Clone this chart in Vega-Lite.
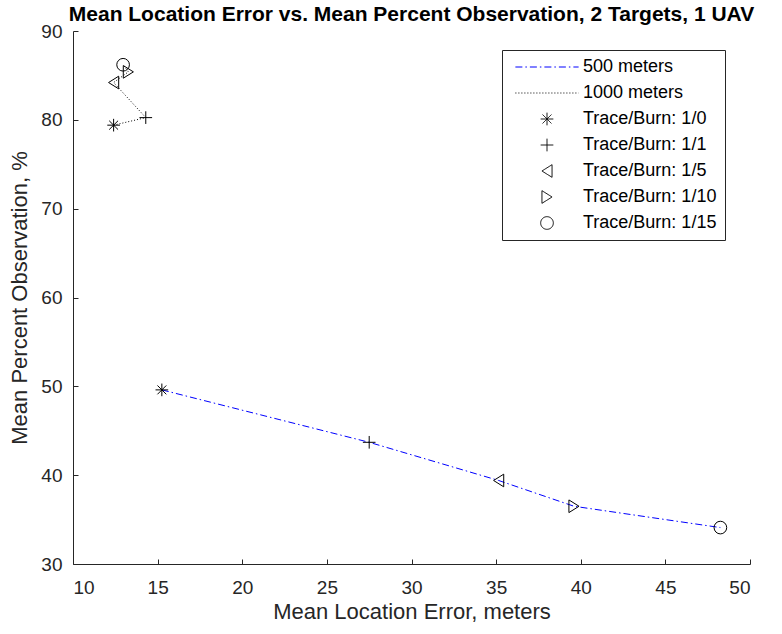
{
  "$schema": "https://vega.github.io/schema/vega-lite/v6.json",
  "width": 677,
  "height": 533,
  "autosize": {"type": "none"},
  "padding": {"left": 73, "top": 31, "right": 32, "bottom": 70},
  "background": "white",
  "config": {
    "font": "Liberation Sans",
    "view": {"stroke": null},
    "axis": {
      "grid": false,
      "domainColor": "#262626",
      "tickColor": "#262626",
      "tickSize": -5,
      "labelColor": "#262626",
      "labelFontSize": 19,
      "titleColor": "#262626",
      "titleFontSize": 22,
      "titleFontWeight": "normal"
    },
    "legend": {
      "orient": "none",
      "legendX": 429,
      "legendY": 19,
      "strokeColor": "#262626",
      "fillColor": "white",
      "padding": 8,
      "rowPadding": 8,
      "labelFontSize": 18,
      "labelColor": "#000000",
      "labelOffset": 27,
      "symbolOffset": 28,
      "symbolSize": 160,
      "symbolStrokeWidth": 1
    }
  },
  "title": {
    "text": "Mean Location Error vs. Mean Percent Observation, 2 Targets, 1 UAV",
    "fontSize": 21,
    "fontWeight": "bold",
    "color": "#000000",
    "anchor": "middle",
    "offset": -3
  },
  "datasets": {
    "lines": [
      {"series": "500 meters", "ord": 0, "x": 15.25, "y": 49.6},
      {"series": "500 meters", "ord": 1, "x": 27.5, "y": 43.7},
      {"series": "500 meters", "ord": 2, "x": 35.15, "y": 39.4},
      {"series": "500 meters", "ord": 3, "x": 39.6, "y": 36.5},
      {"series": "500 meters", "ord": 4, "x": 48.25, "y": 34.1},
      {"series": "1000 meters", "ord": 0, "x": 12.4, "y": 79.4},
      {"series": "1000 meters", "ord": 1, "x": 14.3, "y": 80.25},
      {"series": "1000 meters", "ord": 2, "x": 12.4, "y": 84.2},
      {"series": "1000 meters", "ord": 3, "x": 13.27, "y": 85.4},
      {"series": "1000 meters", "ord": 4, "x": 12.96, "y": 86.2}
    ],
    "points": [
      {"trace": "Trace/Burn: 1/0", "x": 15.25, "y": 49.6},
      {"trace": "Trace/Burn: 1/1", "x": 27.5, "y": 43.7},
      {"trace": "Trace/Burn: 1/5", "x": 35.15, "y": 39.4},
      {"trace": "Trace/Burn: 1/10", "x": 39.6, "y": 36.5},
      {"trace": "Trace/Burn: 1/15", "x": 48.25, "y": 34.1},
      {"trace": "Trace/Burn: 1/0", "x": 12.4, "y": 79.4},
      {"trace": "Trace/Burn: 1/1", "x": 14.3, "y": 80.25},
      {"trace": "Trace/Burn: 1/5", "x": 12.4, "y": 84.2},
      {"trace": "Trace/Burn: 1/10", "x": 13.27, "y": 85.4},
      {"trace": "Trace/Burn: 1/15", "x": 12.96, "y": 86.2}
    ]
  },
  "encoding": {
    "x": {
      "field": "x",
      "type": "quantitative",
      "scale": {"domain": [10, 50], "nice": false, "zero": false},
      "axis": {"values": [10, 15, 20, 25, 30, 35, 40, 45, 50], "title": "Mean Location Error, meters", "labelPadding": 19, "titlePadding": 4}
    },
    "y": {
      "field": "y",
      "type": "quantitative",
      "scale": {"domain": [30, 90], "nice": false, "zero": false},
      "axis": {"values": [30, 40, 50, 60, 70, 80, 90], "title": "Mean Percent Observation, %", "labelPadding": 16, "titlePadding": 9}
    }
  },
  "layer": [
    {
      "data": {"name": "lines"},
      "mark": {"type": "line", "strokeWidth": 1},
      "encoding": {
        "order": {"field": "ord", "type": "quantitative"},
        "color": {
          "field": "series",
          "type": "nominal",
          "scale": {
            "domain": ["500 meters", "1000 meters", "Trace/Burn: 1/0", "Trace/Burn: 1/1", "Trace/Burn: 1/5", "Trace/Burn: 1/10", "Trace/Burn: 1/15"],
            "range": ["#0000ff", "#000000", "#000000", "#000000", "#000000", "#000000", "#000000"]
          },
          "legend": {"title": null}
        },
        "strokeDash": {
          "field": "series",
          "type": "nominal",
          "scale": {
            "domain": ["500 meters", "1000 meters", "Trace/Burn: 1/0", "Trace/Burn: 1/1", "Trace/Burn: 1/5", "Trace/Burn: 1/10", "Trace/Burn: 1/15"],
            "range": [[7, 3, 1.5, 3], [1, 2], [1, 0], [1, 0], [1, 0], [1, 0], [1, 0]]
          },
          "legend": {"title": null}
        }
      }
    },
    {
      "data": {"name": "points"},
      "mark": {"type": "point", "filled": false, "strokeWidth": 1, "opacity": 1, "color": "#000000", "size": 160},
      "encoding": {
        "shape": {
          "field": "trace",
          "type": "nominal",
          "scale": {
            "domain": ["500 meters", "1000 meters", "Trace/Burn: 1/0", "Trace/Burn: 1/1", "Trace/Burn: 1/5", "Trace/Burn: 1/10", "Trace/Burn: 1/15"],
            "range": ["M-5,0L5,0", "M-5,0L5,0", "M-1,0L1,0M0,-1L0,1M-0.7,-0.7L0.7,0.7M-0.7,0.7L0.7,-0.7", "M-1,0L1,0M0,-1L0,1", "M-0.8,0L0.8,-1L0.8,1Z", "M0.8,0L-0.8,-1L-0.8,1Z", "circle"]
          },
          "legend": {"title": null}
        }
      }
    }
  ]
}
